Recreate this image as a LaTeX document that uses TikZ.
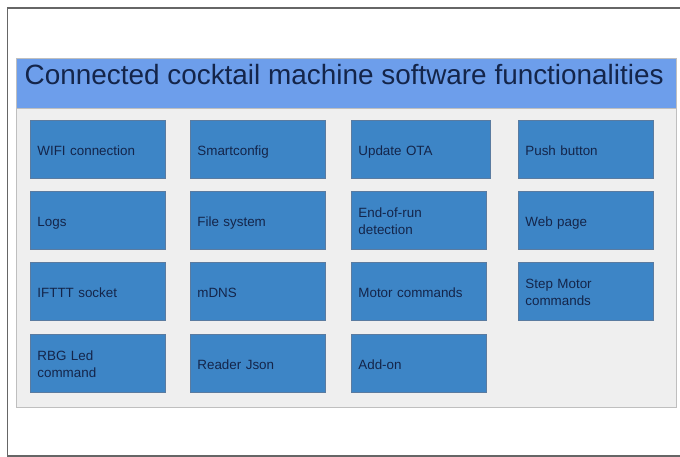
\documentclass[tikz,border=0pt]{standalone}
\usepackage{fontspec}
\setmainfont{Liberation Sans}
\definecolor{hdr}{HTML}{6D9EEB}
\definecolor{panel}{HTML}{EFEFEF}
\definecolor{boxfill}{HTML}{3D85C6}
\definecolor{boxline}{HTML}{5A7BA0}
\definecolor{txt}{HTML}{14254A}
\definecolor{frame}{HTML}{666666}
\begin{document}
\begin{tikzpicture}[x=1pt,y=-1pt,
  fbox/.style={draw=boxline, line width=0.8pt, fill=boxfill, rectangle,
    minimum height=58pt, inner sep=0pt, anchor=north west,
    font=\fontsize{13.4}{16.5}\selectfont, text=txt, align=left,
    execute at begin node=\rule{0pt}{16.5pt}, execute at end node=\strut},
  w135/.style={minimum width=135pt, text width=121pt},
  w139/.style={minimum width=139pt, text width=125pt}]
\useasboundingbox (0,0) rectangle (680,457);
\fill[white] (0,0) rectangle (680,457);
% outer frame
\draw[frame, line width=1.2pt] (681,8) -- (7.5,8) -- (7.5,456) -- (681,456);
% panel
\fill[panel] (16,58) rectangle (676,407);
\draw[draw=black!25, line width=0.8pt] (16,58) rectangle (676,407);
\fill[hdr] (16,58) rectangle (676,108);
\draw[draw=black!25, line width=0.8pt] (16,58) rectangle (676,108);
\node[anchor=base west, inner sep=0pt, text=txt, font=\fontsize{27.9}{30}\selectfont]
  (title) at (24.5,85) {Connected cocktail machine software functionalities};
% row 1
\node[fbox,w135] (wifi)  at (30,120)  {WIFI connection};
\node[fbox,w135] (smart) at (190,120) {Smartconfig};
\node[fbox,w139] (ota)   at (351,120) {Update OTA};
\node[fbox,w135] (push)  at (518,120) {Push button};
% row 2
\node[fbox,w135] (logs)  at (30,191)  {Logs};
\node[fbox,w135] (fs)    at (190,191) {File system};
\node[fbox,w135] (eor)   at (351,191) {End-of-run\\detection};
\node[fbox,w135] (web)   at (518,191) {Web page};
% row 3
\node[fbox,w135] (ifttt) at (30,262)  {IFTTT socket};
\node[fbox,w135] (mdns)  at (190,262) {mDNS};
\node[fbox,w135] (motor) at (351,262) {Motor commands};
\node[fbox,w135] (step)  at (518,262) {Step Motor\\commands};
% row 4
\node[fbox,w135] (rgb)   at (30,334)  {RBG Led\\command};
\node[fbox,w135] (json)  at (190,334) {Reader Json};
\node[fbox,w135] (addon) at (351,334) {Add-on};
\end{tikzpicture}
\end{document}
